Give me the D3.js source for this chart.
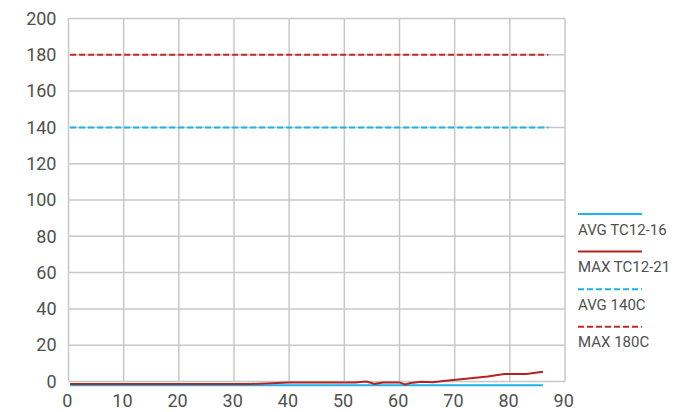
<!DOCTYPE html>
<html>
<head>
<meta charset="utf-8">
<script src="https://cdn.jsdelivr.net/npm/d3@7"></script>
<style>
  html, body { margin: 0; padding: 0; background: #fff; }
  svg { display: block; }
  text { font-family: Roboto, "Noto Sans", sans-serif; }
</style>
</head>
<body>
<svg id="chart" width="675" height="412"></svg>
<script>
// ---- data ----
const xTicks = [0, 10, 20, 30, 40, 50, 60, 70, 80, 90];
const yTicks = [0, 20, 40, 60, 80, 100, 120, 140, 160, 180, 200];
const seriesNames = ["AVG TC12-16", "MAX TC12-21", "AVG 140C", "MAX 180C"];

const avgTcX = [0.3, 86];
const avgTcY = [-2.1, -2.1];
const maxTcX = [0.3, 33, 40, 52, 54, 55.5, 57, 60, 61, 62, 64, 66, 68, 72, 76, 79, 83, 86];
const maxTcY = [-1.4, -1.4, -0.5, -0.5, 0, -1.3, -0.6, -0.5, -1.6, -0.8, -0.2, -0.4, 0.3, 1.5, 2.8, 4.1, 4.1, 5.4];
const avg140X = [0.3, 87];
const avg140Y = [140, 140];
const max180X = [0.3, 87];
const max180Y = [180, 180];

const colors = ["#1ab3ea", "#b3231f", "#1ab3ea", "#c42a22"];
const dashed = [false, false, true, true];

// ---- layout ----
const svg = d3.select("#chart");
const x = d3.scaleLinear().domain([0, 90]).range([68.5, 565]);
const y = d3.scaleLinear().domain([0, 200]).range([381.5, 18.5]);

const gridColor = "#c8c8c8";
const textColor = "#505050";

// grid
svg.append("g").selectAll("line.h").data(yTicks).join("line")
  .attr("x1", x(0)).attr("x2", x(90))
  .attr("y1", d => y(d)).attr("y2", d => y(d))
  .attr("stroke", gridColor).attr("stroke-width", 1.5);
svg.append("g").selectAll("line.v").data(xTicks).join("line")
  .attr("x1", d => x(d)).attr("x2", d => x(d))
  .attr("y1", y(0)).attr("y2", y(200))
  .attr("stroke", gridColor).attr("stroke-width", 1.5);

// axes labels via d3 axes
const yAxis = svg.append("g").attr("transform", `translate(${x(0)},0)`)
  .call(d3.axisLeft(y).tickValues(yTicks).tickSize(0).tickPadding(12));
yAxis.select(".domain").remove();
yAxis.selectAll("text").attr("font-size", 18).attr("fill", textColor)
  .style("font-family", "Roboto, sans-serif");

const xAxis = svg.append("g").attr("transform", `translate(0,${y(0)})`)
  .call(d3.axisBottom(x).tickValues(xTicks).tickSize(0).tickPadding(13));
xAxis.select(".domain").remove();
xAxis.selectAll("text").attr("font-size", 18).attr("fill", textColor)
  .attr("dx", "-0.1em")
  .style("font-family", "Roboto, sans-serif");

// series
const seriesData = [
  d3.zip(avgTcX, avgTcY),
  d3.zip(maxTcX, maxTcY),
  d3.zip(avg140X, avg140Y),
  d3.zip(max180X, max180Y)
];
const line = d3.line().x(d => x(d[0])).y(d => y(d[1]));
seriesData.forEach((data, i) => {
  svg.append("path")
    .attr("d", line(data))
    .attr("fill", "none")
    .attr("stroke", colors[i])
    .attr("stroke-width", 2)
    .attr("stroke-dasharray", dashed[i] ? "6,3" : null);
});

// legend
const legend = svg.append("g");
seriesNames.forEach((name, i) => {
  const ly = 214 + i * 37.6;
  legend.append("line")
    .attr("x1", 578).attr("x2", 642)
    .attr("y1", ly).attr("y2", ly)
    .attr("stroke", colors[i]).attr("stroke-width", 2)
    .attr("stroke-dasharray", dashed[i] ? "6,3" : null);
  legend.append("text")
    .attr("x", 578).attr("y", ly + 20.5)
    .attr("font-size", 15).attr("fill", textColor)
    .text(name);
});
</script>
</body>
</html>
